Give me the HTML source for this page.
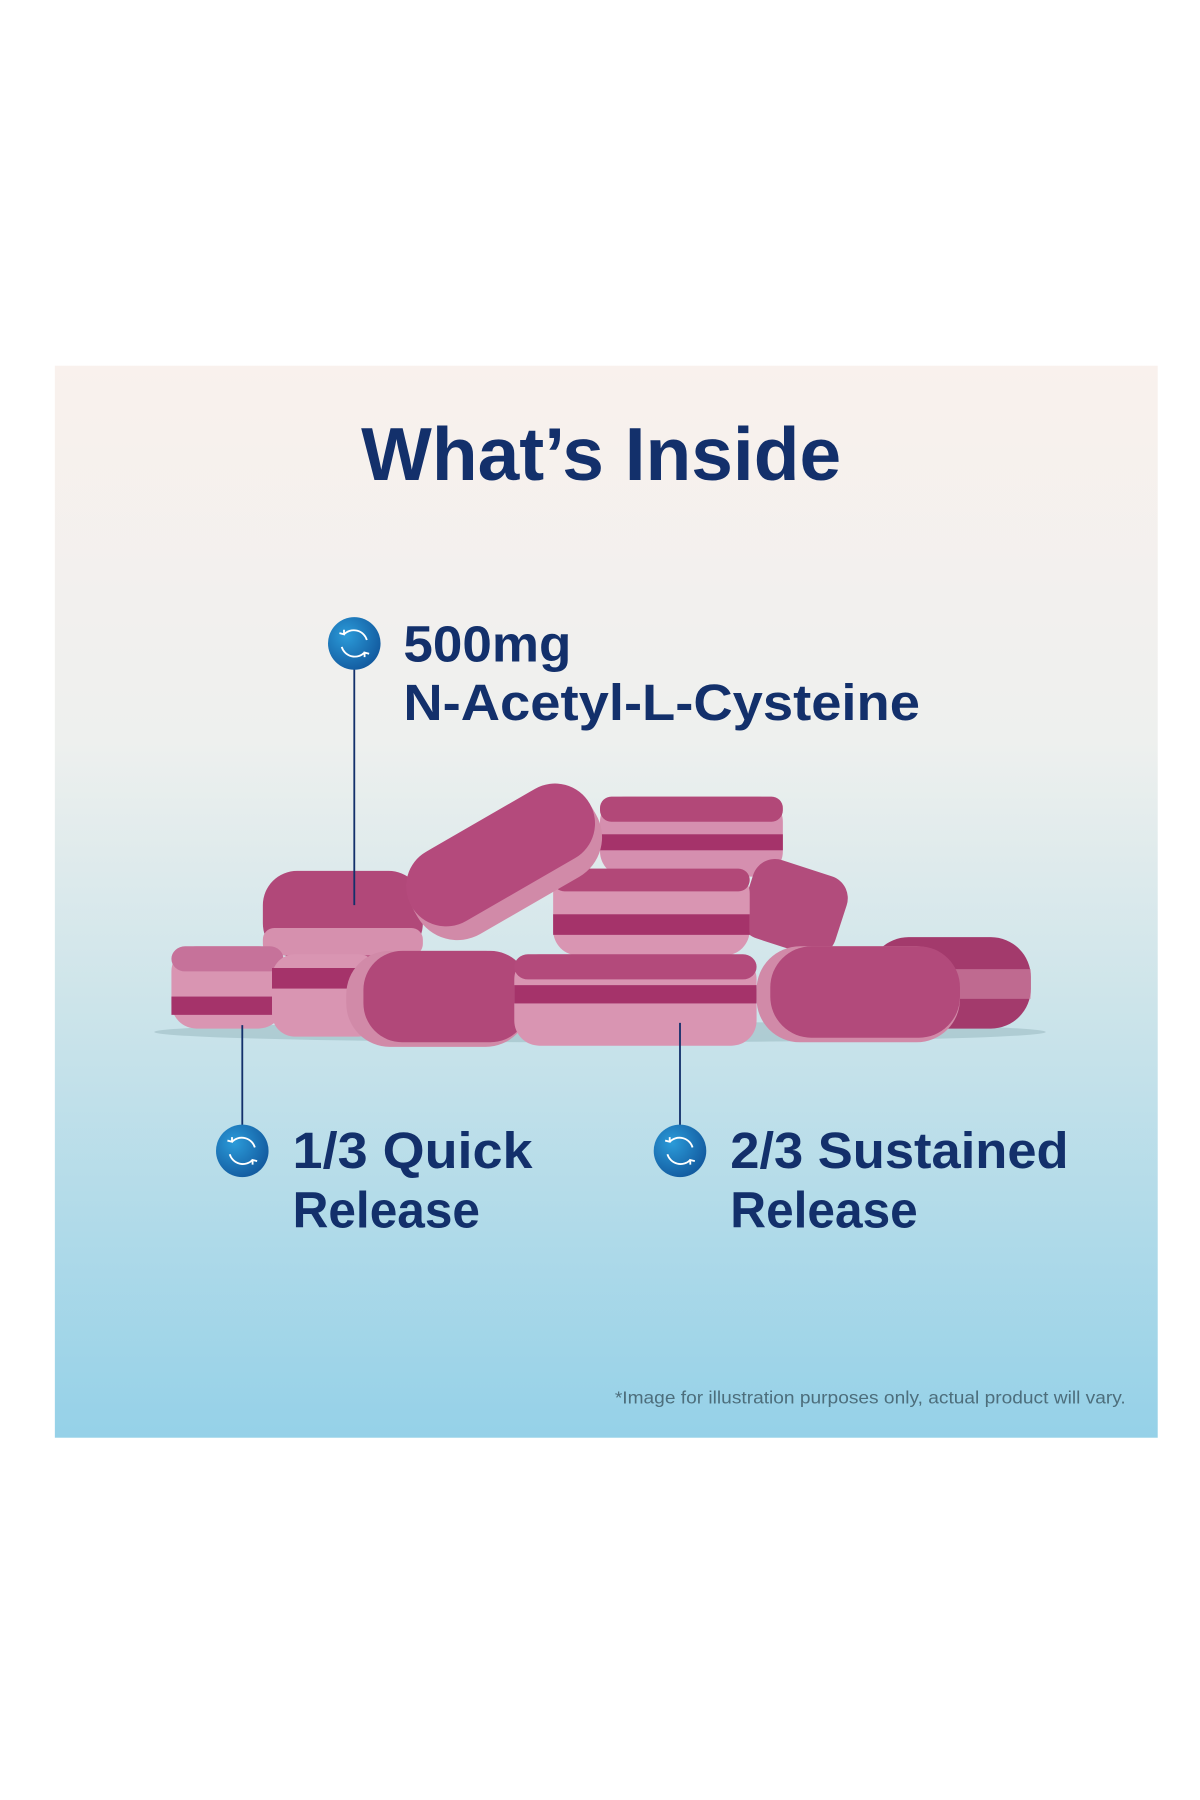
<!DOCTYPE html>
<html><head><meta charset="utf-8"><style>
html,body{margin:0;padding:0;background:#fff;width:1200px;height:1800px;overflow:hidden}
svg{display:block}
text{font-family:"Liberation Sans","DejaVu Sans",sans-serif;font-weight:bold;fill:#13306b}
</style></head><body>
<svg width="1200" height="1800" viewBox="0 0 1050 1575" xmlns="http://www.w3.org/2000/svg">
<defs>
<linearGradient id="bg" x1="0" y1="0" x2="0" y2="1">
<stop offset="0" stop-color="#f9f1ed"/>
<stop offset="0.35" stop-color="#eef0ee"/>
<stop offset="0.6" stop-color="#cce4ea"/>
<stop offset="1" stop-color="#95d1e8"/>
</linearGradient>
<radialGradient id="ic" cx="0.35" cy="0.35" r="0.75">
<stop offset="0" stop-color="#2b9bd9"/>
<stop offset="1" stop-color="#11569b"/>
</radialGradient>
<g id="icon">
<circle r="23" fill="url(#ic)"/>
<path d="M-9,-8 A12,12 0 0 1 11,-3 M9,8 A12,12 0 0 1 -11,3" fill="none" stroke="#fff" stroke-width="1.6"/>
<path d="M-13,-9 L-9,-8 L-9,-12 M13,9 L9,8 L9,12" fill="none" stroke="#fff" stroke-width="1.6"/>
</g>
</defs>
<rect x="48" y="320" width="965" height="938" fill="url(#bg)"/>
<text x="526" y="420" font-size="66" text-anchor="middle" textLength="420" lengthAdjust="spacingAndGlyphs">What’s Inside</text>

<ellipse cx="525" cy="903" rx="390" ry="9" fill="#7fa0aa" opacity="0.35"/>

<g>
<rect x="760" y="820" width="142" height="80" rx="35" fill="#a33a6c"/>
<rect x="760" y="848" width="142" height="26" fill="#d28aa8" opacity="0.6"/>
<rect x="525" y="697" width="160" height="70" rx="22" fill="#d58faf"/>
<rect x="525" y="697" width="160" height="22" rx="10" fill="#b24878"/>
<rect x="525" y="730" width="160" height="14" fill="#a5336a"/>
<rect x="652" y="758" width="86" height="72" rx="20" fill="#b24c7c" transform="rotate(18 695 794)"/>
<rect x="230" y="762" width="140" height="76" rx="30" fill="#b14879"/>
<rect x="230" y="812" width="140" height="24" rx="10" fill="#d690ae"/>
<rect x="484" y="760" width="172" height="76" rx="22" fill="#d995b2"/>
<rect x="484" y="760" width="172" height="20" rx="10" fill="#b24878"/>
<rect x="484" y="800" width="172" height="18" fill="#a5336a"/>
<g transform="rotate(-30 442 755)">
<rect x="352" y="712" width="180" height="86" rx="40" fill="#d18aa8"/>
<rect x="352" y="712" width="180" height="70" rx="35" fill="#b44a7c"/>
</g>
<rect x="150" y="828" width="98" height="72" rx="22" fill="#d995b2"/>
<rect x="150" y="828" width="98" height="22" rx="12" fill="#c6729a"/>
<rect x="150" y="872" width="98" height="16" fill="#a5336a"/>
<rect x="238" y="835" width="95" height="72" rx="20" fill="#d995b2"/>
<rect x="238" y="847" width="95" height="18" fill="#a5336a"/>
<rect x="303" y="832" width="160" height="84" rx="38" fill="#d18aa8"/>
<rect x="318" y="832" width="145" height="80" rx="34" fill="#b14879"/>
<rect x="450" y="835" width="212" height="80" rx="22" fill="#d995b2"/>
<rect x="450" y="835" width="212" height="22" rx="12" fill="#b34a7b"/>
<rect x="450" y="862" width="212" height="16" fill="#a5336a"/>
<rect x="662" y="828" width="178" height="84" rx="38" fill="#d18aa8"/>
<rect x="674" y="828" width="166" height="80" rx="36" fill="#b24a7b"/>
</g>

<line x1="310" y1="585" x2="310" y2="792" stroke="#13306b" stroke-width="1.6"/>
<line x1="212" y1="897" x2="212" y2="990" stroke="#13306b" stroke-width="1.6"/>
<line x1="595" y1="895" x2="595" y2="990" stroke="#13306b" stroke-width="1.6"/>
<use href="#icon" x="310" y="563"/>
<use href="#icon" x="212" y="1007"/>
<use href="#icon" x="595" y="1007"/>

<text x="353" y="579" font-size="45" textLength="147" lengthAdjust="spacingAndGlyphs">500mg</text>
<text x="353" y="630" font-size="45" textLength="452" lengthAdjust="spacingAndGlyphs">N-Acetyl-L-Cysteine</text>
<text x="256" y="1022" font-size="45" textLength="210" lengthAdjust="spacingAndGlyphs">1/3 Quick</text>
<text x="256" y="1074" font-size="45" textLength="164" lengthAdjust="spacingAndGlyphs">Release</text>
<text x="639" y="1022" font-size="45" textLength="296" lengthAdjust="spacingAndGlyphs">2/3 Sustained</text>
<text x="639" y="1074" font-size="45" textLength="164" lengthAdjust="spacingAndGlyphs">Release</text>

<text x="538" y="1228" font-size="15" style="font-weight:normal;fill:#4d6e7c" textLength="447" lengthAdjust="spacingAndGlyphs">*Image for illustration purposes only, actual product will vary.</text>
</svg>
</body></html>
